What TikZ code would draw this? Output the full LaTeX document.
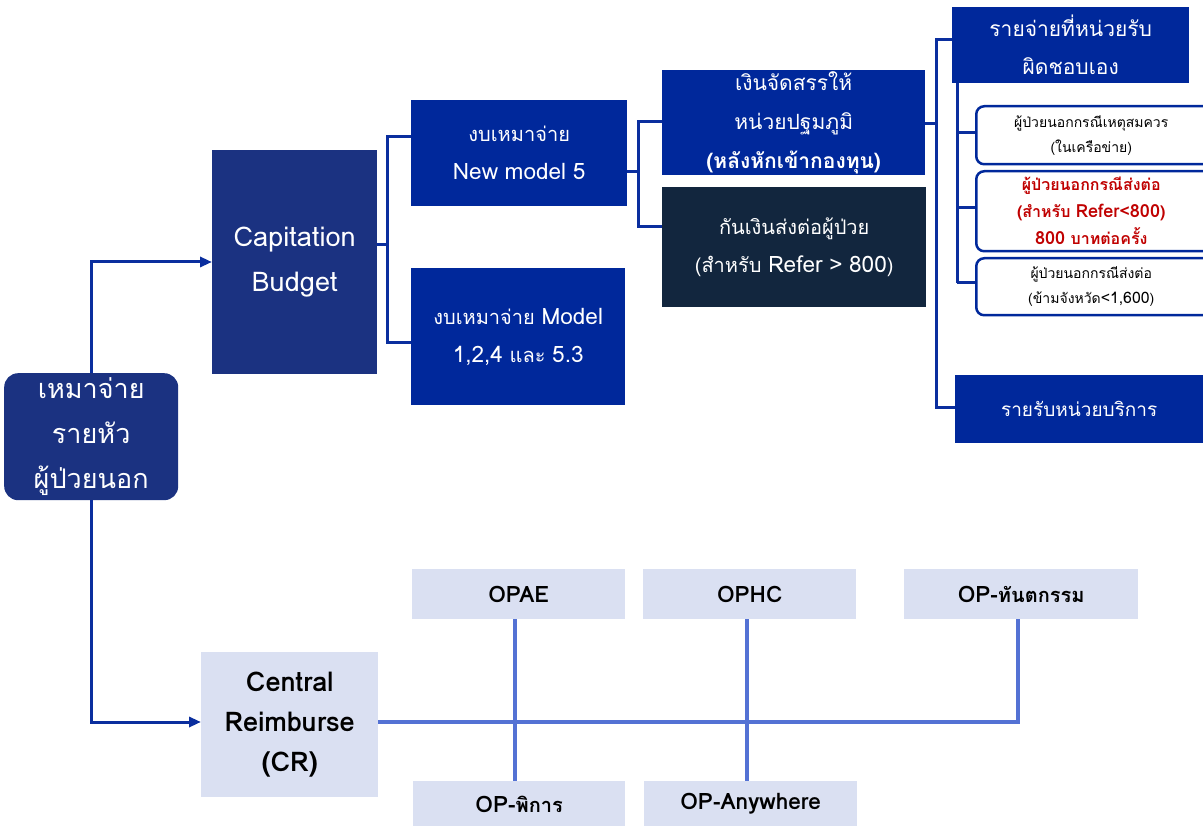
\documentclass[tikz,border=0pt]{standalone}
\usepackage{fontspec}
\setmainfont[Script=Thai]{Loma}
\newfontfamily\latnfont[Scale=1.13]{Loma}
\newcommand{\latn}[1]{{\latnfont #1}}
\usetikzlibrary{arrows.meta}
\definecolor{navy}{HTML}{1B3281}
\definecolor{royal}{HTML}{00289B}
\definecolor{midnight}{HTML}{12263E}
\definecolor{linkblue}{HTML}{0A2E9E}
\definecolor{pale}{HTML}{DAE0F2}
\definecolor{softline}{HTML}{5472D4}
\definecolor{alert}{HTML}{C00000}
\tikzset{
  box/.style={anchor=north west, inner sep=0pt, align=center, text=white},
  sz/.style 2 args={minimum width=#1pt, minimum height=#2pt, text width=#1pt},
  navybox/.style={box, fill=navy},
  royalbox/.style={box, fill=royal},
  darkbox/.style={box, fill=midnight},
  outlinebox/.style={box, text=black, draw=royal, line width=2.5pt, rounded corners=8pt, fill=white},
  palebox/.style={box, text=black, fill=pale, font=\bfseries},
  link/.style={draw=linkblue, line width=3pt},
  linkarrow/.style={link, -{Triangle[length=12pt,width=10pt]}},
  softlink/.style={draw=softline, line width=3.5pt},
}
\begin{document}
\begin{tikzpicture}[x=1pt, y=-1pt]
\useasboundingbox (0,0) rectangle (1203,826);

% capitation branch
\node[navybox, rounded corners=14pt, sz={174}{127}, font=\fontsize{27}{45}\selectfont] (opd) at (4,373) {เหมาจ่าย\\รายหัว\\ผู้ป่วยนอก};
\node[navybox, sz={165}{224}, font=\fontsize{24}{45}\selectfont] (cap) at (212,150) {\latn{Capitation}\\\latn{Budget}};
\node[royalbox, sz={216}{106}, font=\fontsize{20}{38}\selectfont] (nm5) at (411,100) {งบเหมาจ่าย\\\latn{New model 5}};
\node[royalbox, sz={214}{137}, font=\fontsize{20}{38}\selectfont] (m124) at (411,268) {งบเหมาจ่าย \latn{Model}\\\latn{1,2,4} และ \latn{5.3}};
\node[royalbox, sz={263}{105}, font=\fontsize{21}{39}\selectfont] (alloc) at (662,70) {เงินจัดสรรให้\\หน่วยปฐมภูมิ\\{\bfseries (หลังหักเข้ากองทุน)}};
\node[darkbox, sz={264}{120}, font=\fontsize{20}{38}\selectfont] (refer) at (662,187) {กันเงินส่งต่อผู้ป่วย\\(สำหรับ \latn{Refer > 800})};
\node[royalbox, sz={237}{76}, font=\fontsize{21}{38}\selectfont] (cost) at (952,7) {รายจ่ายที่หน่วยรับ\\ผิดชอบเอง};
\node[outlinebox, sz={240}{58}, font=\fontsize{14}{25}\selectfont] (case1) at (975,105) {\hspace*{-10pt}ผู้ป่วยนอกกรณีเหตุสมควร\\\hspace*{-10pt}(ในเครือข่าย)};
\node[outlinebox, sz={240}{80}, font=\fontsize{16}{27}\selectfont\bfseries, text=alert] (case2) at (975,170) {\hspace*{-10pt}ผู้ป่วยนอกกรณีส่งต่อ\\\hspace*{-10pt}(สำหรับ \latn{Refer<800})\\\hspace*{-10pt}\latn{800} บาทต่อครั้ง};
\node[outlinebox, sz={240}{57}, font=\fontsize{14}{25}\selectfont] (case3) at (975,257) {\hspace*{-10pt}ผู้ป่วยนอกกรณีส่งต่อ\\\hspace*{-10pt}(ข้ามจังหวัด\latn{<1,600})};
\node[royalbox, sz={248}{68}, font=\fontsize{19}{30}\selectfont] (income) at (955,375) {รายรับหน่วยบริการ};

% central reimburse branch
\node[palebox, sz={177}{145}, font=\fontsize{24}{40}\selectfont\bfseries] (cr) at (201,652) {\latn{Central}\\\latn{Reimburse}\\\latn{(CR)}};
\node[palebox, sz={213}{50}, font=\fontsize{20}{24}\selectfont\bfseries] (opae) at (412,569) {\latn{OPAE}};
\node[palebox, sz={213}{50}, font=\fontsize{20}{24}\selectfont\bfseries] (ophc) at (643,569) {\latn{OPHC}};
\node[palebox, sz={234}{50}, font=\fontsize{20}{24}\selectfont\bfseries] (dent) at (904,569) {\latn{OP-}ทันตกรรม};
\node[palebox, sz={212}{46}, font=\fontsize{20}{24}\selectfont\bfseries] (disab) at (413,781) {\latn{OP-}พิการ};
\node[palebox, sz={213}{46}, font=\fontsize{20}{24}\selectfont\bfseries] (any) at (644,781) {\latn{OP-Anywhere}};

% connectors from the outpatient box
\draw[linkarrow] (opd.north -| 91,0) |- (cap.west |- 0,262);
\draw[linkarrow] (opd.south -| 91,0) |- (cr.west |- 0,722);

% capitation split
\coordinate (j1) at (387,245);
\draw[link] (cap.east |- j1) -- (j1);
\draw[link] (nm5.west |- 0,137) -| (387,343) -- (m124.west |- 0,343);

% new model 5 split
\coordinate (j2) at (638,172);
\draw[link] (nm5.east |- j2) -- (j2);
\draw[link] (alloc.west |- 0,122) -| (638,227) -- (refer.west |- 0,227);

% allocation split
\coordinate (j3) at (936,124);
\draw[link] (alloc.east |- j3) -- (j3);
\draw[link] (cost.west |- 0,40) -| (936,408) -- (income.west |- 0,408);

% own-cost items
\draw[link] (957,83) -- (957,283);
\draw[link] (957,133) -- (case1.west |- 0,133);
\draw[link] (957,208) -- (case2.west |- 0,208);
\draw[link] (957,283) -- (case3.west |- 0,283);

% reimbursement bus
\draw[softlink] (cr.east |- 0,722) -| (dent.south -| 1018,0);
\draw[softlink] (opae.south -| 515,0) -- (disab.north -| 515,0);
\draw[softlink] (ophc.south -| 747,0) -- (any.north -| 747,0);
\end{tikzpicture}
\end{document}
